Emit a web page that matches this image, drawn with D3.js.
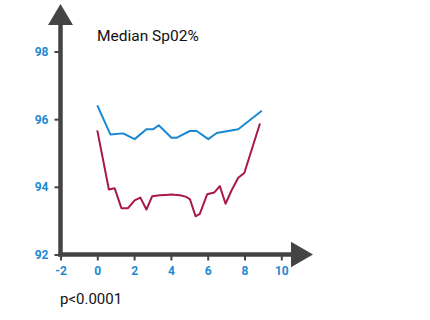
<!DOCTYPE html>
<html>
<head>
<meta charset="utf-8">
<script src="https://cdn.jsdelivr.net/npm/d3@7"></script>
<style>
  body { margin: 0; background: #fff; }
  svg { display: block; font-family: Roboto, "Noto Sans", sans-serif; }
</style>
</head>
<body>
<div id="chart"></div>
<script>
// data
var blueX = [0, 0.71, 1.4, 2.03, 2.67, 3.03, 3.34, 4.03, 4.3, 5.03, 5.4, 6.03, 6.49, 7.66, 8.94];
var blueY = [96.41, 95.55, 95.58, 95.41, 95.70, 95.70, 95.82, 95.45, 95.45, 95.65, 95.65, 95.41, 95.59, 95.70, 96.25];

var redX = [0, 0.63, 0.94, 1.31, 1.67, 2.03, 2.34, 2.67, 2.98, 3.4, 3.7, 4.03, 4.49, 4.8, 5.03, 5.34, 5.57, 5.97, 6.35, 6.66, 6.97, 7.3, 7.66, 7.99, 8.84];
var redY = [95.67, 93.92, 93.96, 93.37, 93.37, 93.6, 93.68, 93.33, 93.72, 93.75, 93.76, 93.77, 93.75, 93.71, 93.64, 93.13, 93.2, 93.78, 93.83, 94.02, 93.5, 93.9, 94.27, 94.41, 95.87];

var xTicks = [-2, 0, 2, 4, 6, 8, 10];
var yTicks = [92, 94, 96, 98];

var title = "Median Sp02%";
var note = "p<0.0001";

var svg = d3.select("#chart").append("svg")
  .attr("width", 430)
  .attr("height", 320);

var xScale = d3.scaleLinear().domain([-2, 10]).range([60.5, 281.3]);
var yScale = d3.scaleLinear().domain([92, 98]).range([254.5, 51.5]);

var axisColor = "#444";
var tickColor = "#1f8ad2";

// ticks
var xAxis = d3.axisBottom(xScale).tickValues(xTicks).tickSize(6).tickPadding(6)
  .tickFormat(function(d) { return String(d); });
var yAxis = d3.axisLeft(yScale).tickValues(yTicks).tickSize(6).tickPadding(6)
  .tickFormat(function(d) { return String(d); });

var gx = svg.append("g").attr("transform", "translate(0," + yScale(92) + ")").call(xAxis);
var gy = svg.append("g").attr("transform", "translate(" + xScale(-2) + ",0)").call(yAxis);

[gx, gy].forEach(function(g) {
  g.select(".domain").remove();
  g.selectAll(".tick line").attr("stroke", axisColor).attr("stroke-width", 2);
  g.selectAll(".tick text")
    .attr("fill", tickColor)
    .attr("font-size", 12)
    .attr("font-weight", "bold")
    .attr("font-family", "Roboto, sans-serif");
});

// thick axis lines with arrowheads
var x0 = xScale(-2), y0 = yScale(92);
svg.append("line")
  .attr("x1", x0).attr("y1", y0 + 2)
  .attr("x2", x0).attr("y2", 25)
  .attr("stroke", axisColor).attr("stroke-width", 4.5);
svg.append("line")
  .attr("x1", x0 - 2).attr("y1", y0)
  .attr("x2", 292).attr("y2", y0)
  .attr("stroke", axisColor).attr("stroke-width", 4.5);

svg.append("path")
  .attr("d", d3.line()([[x0 - 12.5, 25], [x0, 4], [x0 + 12.5, 25]]) + "Z")
  .attr("fill", axisColor);
svg.append("path")
  .attr("d", d3.line()([[291, y0 - 12.8], [313, y0], [291, y0 + 12.8]]) + "Z")
  .attr("fill", axisColor);

// lines
var line = d3.line()
  .x(function(d) { return xScale(d[0]); })
  .y(function(d) { return yScale(d[1]); });

svg.append("path")
  .datum(blueX.map(function(v, i) { return [v, blueY[i]]; }))
  .attr("d", line)
  .attr("fill", "none")
  .attr("stroke", "#1b88d3")
  .attr("stroke-width", 2)
  .attr("stroke-linejoin", "round");

svg.append("path")
  .datum(redX.map(function(v, i) { return [v, redY[i]]; }))
  .attr("d", line)
  .attr("fill", "none")
  .attr("stroke", "#a8184b")
  .attr("stroke-width", 2)
  .attr("stroke-linejoin", "round");

// texts
svg.append("text")
  .attr("x", 97).attr("y", 40.5)
  .attr("font-size", 15.5)
  .attr("fill", "#111")
  .text(title);

svg.append("text")
  .attr("x", 60).attr("y", 304)
  .attr("font-size", 15)
  .attr("fill", "#111")
  .text(note);
</script>
</body>
</html>
